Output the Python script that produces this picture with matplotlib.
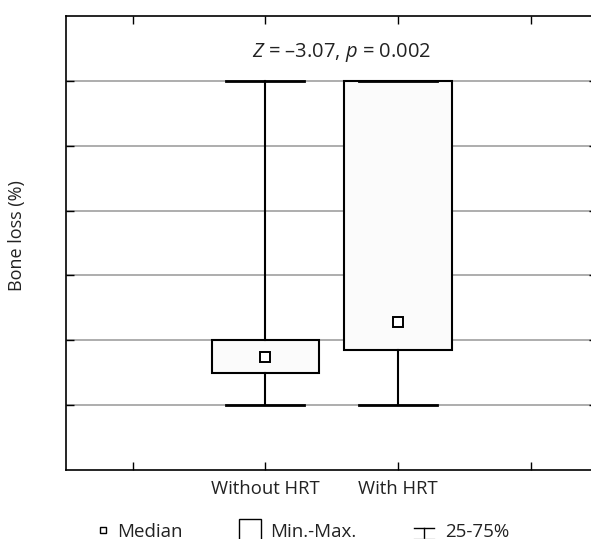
import matplotlib
matplotlib.use("Agg")
import matplotlib.pyplot as plt
from matplotlib.lines import Line2D
from matplotlib.patches import Rectangle

plt.rcParams['font.family'] = ['Open Sans', 'DejaVu Sans']
plt.rcParams['mathtext.fontset'] = 'custom'
plt.rcParams['mathtext.rm'] = 'Open Sans'
plt.rcParams['mathtext.it'] = 'Open Sans:italic'

# ---- data (arbitrary y units; gridlines unlabeled in the original) ----
categories = ['Without HRT', 'With HRT']
positions = [2, 3]
whisker_low = [1.0, 1.0]
box_low = [1.49, 1.85]
box_high = [2.0, 6.0]
whisker_high = [6.0, 6.0]
medians = [1.75, 2.28]
y_gridlines = [1, 2, 3, 4, 5, 6]
x_ticks = [1, 2, 3, 4]
x_ticklabels = ['', 'Without HRT', 'With HRT', '']
annotation = "$Z$ = \u20133.07, $p$ = 0.002"

TXT = '#222222'
W, H = 591, 539
fig = plt.figure(figsize=(W / 100, H / 100), dpi=100)

left_px, right_px, top_px, bottom_px = 66.3, 597.0, 16.0, 470.0
ax = fig.add_axes([left_px / W, 1 - bottom_px / H,
                   (right_px - left_px) / W, (bottom_px - top_px) / H])
ax.set_xlim(0.5, 4.5)
ax.set_ylim(0, 7)

for y in y_gridlines:
    ax.axhline(y, color='#a0a0a0', lw=1.2, zorder=0)

stats = []
for i, name in enumerate(categories):
    stats.append(dict(label=name, whislo=whisker_low[i], q1=box_low[i],
                      med=medians[i], q3=box_high[i], whishi=whisker_high[i],
                      fliers=[]))

ax.bxp(stats, positions=positions, widths=0.81, patch_artist=True,
       showfliers=False,
       boxprops=dict(facecolor='#fbfbfb', edgecolor='black', linewidth=1.5),
       whiskerprops=dict(color='black', linewidth=1.5),
       capprops=dict(color='black', linewidth=2.0),
       medianprops=dict(linewidth=0),
       capwidths=0.59, zorder=2)

ax.plot(positions, medians, linestyle='none', marker='s', markersize=7,
        markerfacecolor='white', markeredgecolor='black', markeredgewidth=1.4,
        zorder=3)

ax.set_xticks(x_ticks)
ax.set_xticklabels(x_ticklabels, fontsize=13.3)
ax.set_yticks(y_gridlines)
ax.set_yticklabels([])
ax.tick_params(axis='both', direction='in', length=5.5, width=1,
               top=True, right=True, pad=7.5, colors='black', labelcolor=TXT)
for sp in ax.spines.values():
    sp.set_linewidth(1.2)
    sp.set_color('black')

fig.text(17.5 / W, 1 - 236 / H, 'Bone loss (%)', rotation=90,
         ha='center', va='center', fontsize=13, color=TXT)
fig.text(341.7 / W, 1 - 57 / H, annotation, ha='center', va='baseline',
         fontsize=14.5, color=TXT)

# ---- legend drawn below the plot ----
def fx(x):
    return x / W

def fy(y):
    return 1 - y / H

fig.add_artist(Rectangle((fx(100), fy(532.7)), 6 / W, 6 / H,
                         transform=fig.transFigure, facecolor='white',
                         edgecolor='black', linewidth=1.0))
fig.text(fx(117), fy(537), 'Median', ha='left', va='baseline',
         fontsize=13.5, color=TXT)
fig.add_artist(Rectangle((fx(238.5), fy(545)), 22 / W, 26.5 / H,
                         transform=fig.transFigure, facecolor='white',
                         edgecolor='black', linewidth=1.0))
fig.text(fx(270.5), fy(537), 'Min.-Max.', ha='left', va='baseline',
         fontsize=13.5, color=TXT)
fig.add_artist(Line2D([fx(414), fx(434)], [fy(527.5), fy(527.5)],
                      transform=fig.transFigure, color='black', lw=1.0))
fig.add_artist(Line2D([fx(424), fx(424)], [fy(527.5), fy(538)],
                      transform=fig.transFigure, color='black', lw=1.0))
fig.add_artist(Line2D([fx(414), fx(434)], [fy(538.5), fy(538.5)],
                      transform=fig.transFigure, color='#999999', lw=1.0))
fig.text(fx(445), fy(537), '25-75%', ha='left', va='baseline',
         fontsize=13.5, color=TXT)

fig.savefig('out.png', dpi=100)
